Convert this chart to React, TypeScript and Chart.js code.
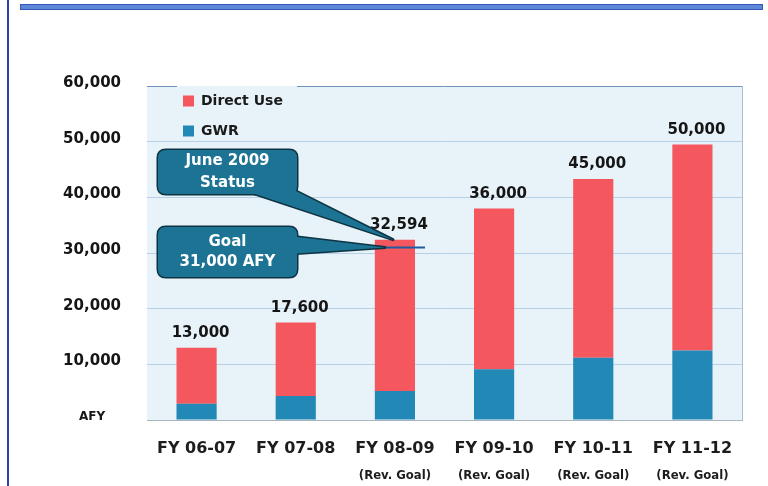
import { useEffect, useRef } from 'react';
import { Chart, registerables } from 'chart.js';

Chart.register(...registerables);

// ---- data ----
const categories = ['FY 06-07', 'FY 07-08', 'FY 08-09', 'FY 09-10', 'FY 10-11', 'FY 11-12'];
const subLabels = ['', '', '(Rev. Goal)', '(Rev. Goal)', '(Rev. Goal)', '(Rev. Goal)'];
const gwrValues = [2900, 4300, 5200, 9100, 11200, 12500];
const directUseValues = [10100, 13200, 27200, 28900, 32100, 37000];
const totalLabels = ['13,000', '17,600', '32,594', '36,000', '45,000', '50,000'];
const yMin = 0;
const yMax = 60000;
const yStep = 10000;
const zeroTickLabel = 'AFY';
const goalValue = 31000;
const statusIndex = 2;
const statusCallout = ['June 2009', 'Status'];
const goalCallout = ['Goal', '31,000 AFY'];

const FONT = "'DejaVu Sans', Verdana, sans-serif";
const FONT_COND = "'DejaVu Sans Condensed', 'DejaVu Sans', sans-serif";
const RED = '#f4575e';
const BLUE = '#2288b6';
const PLOT_BG = '#e7f2f9';
const BOX_FILL = '#1d7393';
const BOX_STROKE = '#0e3342';

function roundRectPath(ctx: CanvasRenderingContext2D, x: number, y: number, w: number, h: number, r: number) {
  ctx.beginPath();
  ctx.moveTo(x + r, y);
  ctx.lineTo(x + w - r, y);
  ctx.quadraticCurveTo(x + w, y, x + w, y + r);
  ctx.lineTo(x + w, y + h - r);
  ctx.quadraticCurveTo(x + w, y + h, x + w - r, y + h);
  ctx.lineTo(x + r, y + h);
  ctx.quadraticCurveTo(x, y + h, x, y + h - r);
  ctx.lineTo(x, y + r);
  ctx.quadraticCurveTo(x, y, x + r, y);
  ctx.closePath();
}

function drawCallout(
  ctx: CanvasRenderingContext2D,
  box: { x: number; y: number; w: number; h: number },
  pointer: [number, number][],
  lines: string[],
  lineGap: number
) {
  const polyPath = () => {
    ctx.beginPath();
    ctx.moveTo(pointer[0][0], pointer[0][1]);
    for (let i = 1; i < pointer.length; i++) ctx.lineTo(pointer[i][0], pointer[i][1]);
    ctx.closePath();
  };
  ctx.save();
  ctx.lineJoin = 'round';
  ctx.lineWidth = 3;
  ctx.strokeStyle = BOX_STROKE;
  ctx.fillStyle = BOX_FILL;
  polyPath();
  ctx.stroke();
  roundRectPath(ctx, box.x, box.y, box.w, box.h, 8);
  ctx.stroke();
  polyPath();
  ctx.fill();
  roundRectPath(ctx, box.x, box.y, box.w, box.h, 8);
  ctx.fill();
  ctx.fillStyle = '#ffffff';
  ctx.font = `bold 15px ${FONT}`;
  ctx.textAlign = 'center';
  ctx.textBaseline = 'middle';
  const cx = box.x + box.w / 2;
  const cy = box.y + box.h / 2;
  const n = lines.length;
  lines.forEach((t, i) => {
    ctx.fillText(t, cx, cy + (i - (n - 1) / 2) * lineGap);
  });
  ctx.restore();
}

const decorPlugin = {
  id: 'decor',
  beforeDraw(chart: any) {
    const { ctx, chartArea } = chart;
    ctx.save();
    // plot background
    ctx.fillStyle = PLOT_BG;
    ctx.fillRect(chartArea.left, chartArea.top, chartArea.right - chartArea.left, chartArea.bottom - chartArea.top);
    // page decorations
    ctx.fillStyle = '#2b3fa6';
    ctx.fillRect(7, 0, 2, chart.height);
    ctx.fillStyle = '#5d88d8';
    ctx.fillRect(20, 4, 743, 6);
    ctx.strokeStyle = '#3458b8';
    ctx.lineWidth = 1;
    ctx.strokeRect(20.5, 4.5, 742, 5);
    // right border of the plot
    ctx.strokeStyle = '#a6bfd6';
    ctx.beginPath();
    ctx.moveTo(chartArea.right + 0.5, chartArea.top);
    ctx.lineTo(chartArea.right + 0.5, chartArea.bottom);
    ctx.stroke();
    ctx.restore();
    // place legend inside the plot, top-left
    if (chart.legend) {
      chart.legend.left = chartArea.left + 20;
      chart.legend.top = chartArea.top - 8;
    }
  },
  afterDatasetsDraw(chart: any) {
    const { ctx, chartArea } = chart;
    const topMeta = chart.getDatasetMeta(1);
    const yScale = chart.scales.y;

    // legend backdrop interrupting the top border line
    ctx.save();
    ctx.fillStyle = PLOT_BG;
    ctx.fillRect(chartArea.left + 30, chartArea.top, 120, 2);
    ctx.restore();

    ctx.save();
    ctx.font = `bold 15px ${FONT}`;
    ctx.fillStyle = '#151515';
    ctx.textAlign = 'center';
    ctx.textBaseline = 'bottom';
    topMeta.data.forEach((el: any, i: number) => {
      ctx.fillText(totalLabels[i], el.x + 4, el.y - 7);
    });
    ctx.restore();

    const bar = topMeta.data[statusIndex];
    const half = bar.width / 2;
    const gy = yScale.getPixelForValue(goalValue);

    // goal line across the bar
    ctx.save();
    ctx.strokeStyle = '#1f5c9e';
    ctx.lineWidth = 2;
    ctx.beginPath();
    ctx.moveTo(bar.x - half - 4, gy);
    ctx.lineTo(bar.x + half + 10, gy);
    ctx.stroke();
    ctx.restore();

    // callouts
    const sBox = { x: 158, y: 150, w: 139, h: 44 };
    drawCallout(
      ctx,
      sBox,
      [
        [237, sBox.y + sBox.h - 6],
        [290, sBox.y + sBox.h - 6],
        [bar.x - 2, bar.y],
      ],
      statusCallout,
      22
    );
    const gBox = { x: 158, y: 227, w: 139, h: 50 };
    drawCallout(
      ctx,
      gBox,
      [
        [gBox.x + gBox.w - 8, 236],
        [gBox.x + gBox.w - 8, 254],
        [bar.x - half + 10, gy],
      ],
      goalCallout,
      20
    );
  },
};

export default function App() {
  const ref = useRef<HTMLCanvasElement | null>(null);
  useEffect(() => {
    if (!ref.current) return;
    Chart.defaults.font.family = FONT;
    const chart = new Chart(ref.current, {
      type: 'bar',
      data: {
        labels: categories,
        datasets: [
          {
            label: 'GWR',
            data: gwrValues,
            backgroundColor: BLUE,
            borderWidth: 0,
            barPercentage: 0.405,
            categoryPercentage: 1,
          },
          {
            label: 'Direct Use',
            data: directUseValues,
            backgroundColor: RED,
            borderWidth: 0,
            barPercentage: 0.405,
            categoryPercentage: 1,
          },
        ],
      },
      options: {
        responsive: false,
        animation: false,
        layout: { padding: { left: 0, top: 86, right: 26, bottom: 0 } },
        plugins: {
          tooltip: { enabled: false },
          legend: {
            position: 'chartArea',
            align: 'start',
            reverse: true,
            labels: {
              boxWidth: 11,
              boxHeight: 11,
              padding: 16,
              color: '#1b1b1b',
              font: { size: 14, weight: 'bold', family: FONT },
            },
          },
        },
        scales: {
          x: {
            stacked: true,
            weight: 0,
            grid: { display: false, drawTicks: false },
            border: { display: true, color: '#aab5be', dash: [6, 4] },
            ticks: {
              color: '#1d1d1d',
              padding: 19,
              font: { size: 16, weight: 'bold', family: FONT },
              maxRotation: 0,
              autoSkip: false,
            },
            afterFit: (s: any) => {
              s.height = 42;
            },
          },
          x2: {
            type: 'category',
            labels: subLabels,
            position: 'bottom',
            offset: true,
            weight: 1,
            grid: { display: false, drawTicks: false },
            border: { display: false },
            ticks: {
              color: '#1d1d1d',
              padding: 6,
              font: { size: 13, weight: 'bold', family: FONT_COND },
              maxRotation: 0,
              autoSkip: false,
            },
            afterFit: (s: any) => {
              s.height = 24;
            },
          },
          y: {
            stacked: true,
            min: yMin,
            max: yMax,
            grid: {
              drawTicks: false,
              color: (c: any) =>
                c.tick && c.tick.value === yMax ? '#6f93bb' : c.tick && c.tick.value === 0 ? 'rgba(0,0,0,0)' : '#b6d1e6',
            },
            border: { display: false },
            ticks: {
              stepSize: yStep,
              padding: 26,
              crossAlign: 'center',
              labelOffset: -3,
              color: '#151515',
              font: (c: any) =>
                c.tick && c.tick.value === 0
                  ? { size: 12, weight: 'bold', family: FONT }
                  : { size: 15, weight: 'bold', family: FONT },
              callback: (v: any) => (Number(v) === 0 ? zeroTickLabel : Number(v).toLocaleString('en-US')),
            },
            afterFit: (s: any) => {
              s.width = 147;
            },
          },
        },
      } as any,
      plugins: [decorPlugin],
    });
    return () => chart.destroy();
  }, []);
  return (
    <div style={{ position: 'fixed', left: 0, top: 0, width: 768, height: 486, background: '#ffffff' }}>
      <canvas ref={ref} width={768} height={486} style={{ display: 'block', width: 768, height: 486 }} />
    </div>
  );
}
